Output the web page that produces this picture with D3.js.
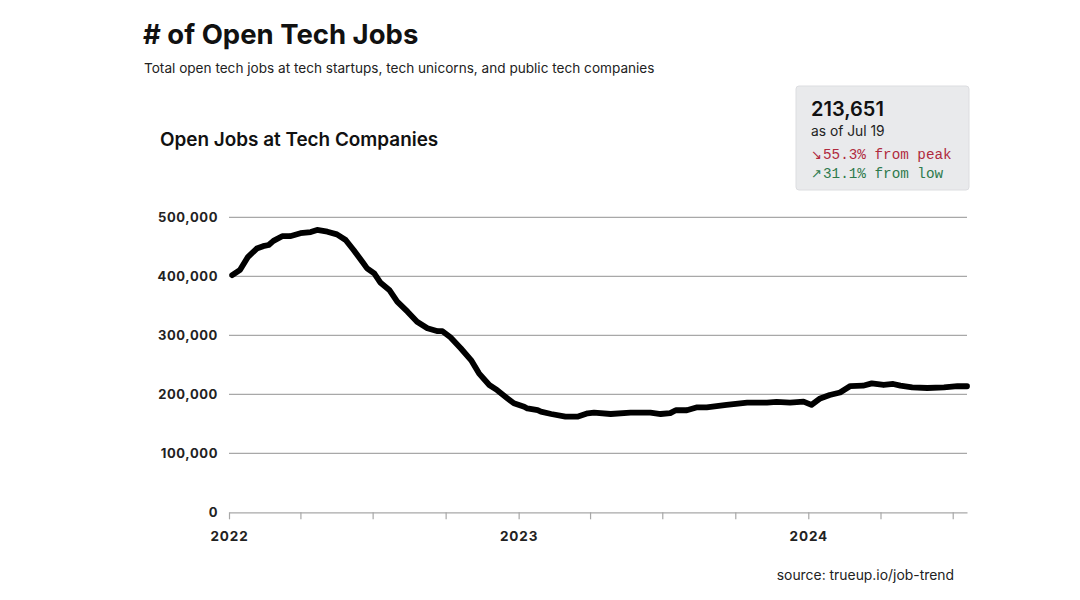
<!DOCTYPE html>
<html><head><meta charset="utf-8">
<script src="https://cdn.jsdelivr.net/npm/d3@7"></script>
<style>
body{margin:0;background:#fff;}
svg{display:block;}
</style></head><body>
<svg id="c" width="1080" height="600"></svg>
<script>
const dates = ["2022-01-05","2022-01-15","2022-01-25","2022-02-05","2022-02-13","2022-02-20","2022-02-26","2022-03-09","2022-03-19","2022-04-01","2022-04-14","2022-04-22","2022-05-05","2022-05-17","2022-05-28","2022-06-07","2022-06-18","2022-06-24","2022-07-03","2022-07-11","2022-07-22","2022-08-01","2022-08-14","2022-08-26","2022-09-08","2022-09-21","2022-09-27","2022-10-07","2022-10-20","2022-11-02","2022-11-12","2022-11-25","2022-12-05","2022-12-18","2022-12-26","2023-01-08","2023-01-12","2023-01-25","2023-01-29","2023-02-11","2023-03-01","2023-03-16","2023-03-29","2023-04-06","2023-04-27","2023-05-22","2023-06-16","2023-06-29","2023-07-11","2023-07-18","2023-08-01","2023-08-14","2023-08-26","2023-09-20","2023-10-16","2023-11-10","2023-11-22","2023-12-09","2023-12-26","2024-01-05","2024-01-16","2024-01-28","2024-02-10","2024-02-23","2024-03-10","2024-03-21","2024-04-05","2024-04-17","2024-04-26","2024-05-11","2024-05-30","2024-06-20","2024-07-07","2024-07-19"];
const jobs = [402000,411000,433000,447000,451000,453000,460000,468000,468000,473000,475000,478500,475600,471000,461500,444600,424700,413500,405000,389000,376800,357000,340000,323000,312000,307000,307000,296600,278000,258000,235600,215800,207000,193000,184700,179000,176000,173000,170500,166600,162000,162000,167800,169000,166600,169000,169000,166600,168000,173000,173000,178000,178000,182000,185800,186000,187000,185800,187500,182000,193000,198800,203000,214000,214600,218600,215800,217500,214600,211900,210700,211900,214000,213651];
const yTicks = [0,100000,200000,300000,400000,500000];
const xTickLabels = ["2022","2023","2024"];
const title = "# of Open Tech Jobs";
const subtitle = "Total open tech jobs at tech startups, tech unicorns, and public tech companies";
const chartTitle = "Open Jobs at Tech Companies";
const source = "source: trueup.io/job-trend";
const boxValue = "213,651";
const boxDate = "as of Jul 19";
const boxArrows = ["\u2198", "\u2197"];
const boxChanges = ["55.3% from peak", "31.1% from low"];

const parse = d3.utcParse("%Y-%m-%d");
const data = dates.map((d,i)=>({date:parse(d), v:jobs[i]}));

const svg = d3.select("#c");
const font = "Inter, 'Helvetica Neue', Arial, sans-serif";
const mono = "'Liberation Mono', 'DejaVu Sans Mono', monospace";

const x = d3.scaleUtc().domain([parse("2022-01-01"), parse("2024-07-19")]).range([229, 967]);
const y = d3.scaleLinear().domain([0,500000]).range([512.3, 217.3]);

// titles
svg.append("text").attr("x",143).attr("y",44).attr("font-family",font).attr("font-size",27.5).attr("font-weight",700).attr("fill","#111").text(title);
svg.append("text").attr("x",144).attr("y",73).attr("font-family",font).attr("font-size",13.6).attr("fill","#222").text(subtitle);
svg.append("text").attr("x",160).attr("y",146).attr("font-family",font).attr("font-size",18.9).attr("font-weight",600).attr("fill","#111").text(chartTitle);

// grid
const g = svg.append("g");
g.selectAll("line.grid").data(yTicks.filter(t=>t>0)).join("line")
  .attr("x1",229).attr("x2",967).attr("y1",d=>y(d)).attr("y2",d=>y(d))
  .attr("stroke","#a8a8a8").attr("stroke-width",1.2);

// y axis labels
const yAxis = d3.axisLeft(y).tickValues(yTicks).tickSize(0).tickPadding(11)
  .tickFormat(d3.format(","));
const ya = svg.append("g").attr("transform","translate(229,0)").call(yAxis);
ya.select(".domain").remove();
ya.selectAll("text").attr("font-family",font).attr("font-size",13).attr("font-weight",700)
  .attr("fill","#222").attr("letter-spacing","0.6px");

// x axis
const qTicks = d3.utcMonth.every(3).range(parse("2022-01-01"), parse("2024-07-20"));
const xAxis = d3.axisBottom(x).tickValues(qTicks).tickSize(7).tickSizeOuter(0)
  .tickFormat(d => d.getUTCMonth()===0 ? xTickLabels[d.getUTCFullYear()-2022] : "");
const xa = svg.append("g").attr("transform","translate(0,512.3)").call(xAxis);
xa.select(".domain").attr("stroke","#a8a8a8").attr("stroke-width",1.2);
xa.selectAll(".tick line").attr("stroke","#a8a8a8").attr("stroke-width",1.2);
xa.selectAll("text").attr("font-family",font).attr("font-size",13.5).attr("font-weight",700)
  .attr("fill","#222").attr("letter-spacing","0.9px").attr("dy","1.4em");

// line
const line = d3.line().x(d=>x(d.date)).y(d=>y(d.v)).curve(d3.curveLinear);
svg.append("path").datum(data).attr("d",line).attr("fill","none")
  .attr("stroke","#000").attr("stroke-width",5.8).attr("stroke-linejoin","round").attr("stroke-linecap","round");

// box
svg.append("rect").attr("x",796).attr("y",86).attr("width",173).attr("height",104).attr("rx",3)
  .attr("fill","#e9eaec").attr("stroke","#dcdde0");
svg.append("text").attr("x",811).attr("y",116).attr("font-family",font).attr("font-size",20).attr("font-weight",600).attr("fill","#111").text(boxValue);
svg.append("text").attr("x",811).attr("y",136).attr("font-family",font).attr("font-size",13.8).attr("fill","#222").text(boxDate);
const colors = ["#b02a3e","#2e7a4c"];
[159,178].forEach((yy,i)=>{
  svg.append("text").attr("x",811).attr("y",yy).attr("font-family","'DejaVu Sans', sans-serif").attr("font-size",13).attr("fill",colors[i]).text(boxArrows[i]);
  svg.append("text").attr("x",823).attr("y",yy).attr("font-family",mono).attr("font-size",14.3).attr("fill",colors[i]).text(boxChanges[i]);
});

// source
svg.append("text").attr("x",954).attr("y",580).attr("text-anchor","end").attr("font-family",font).attr("font-size",13.9).attr("fill","#222").text(source);
</script></body></html>
